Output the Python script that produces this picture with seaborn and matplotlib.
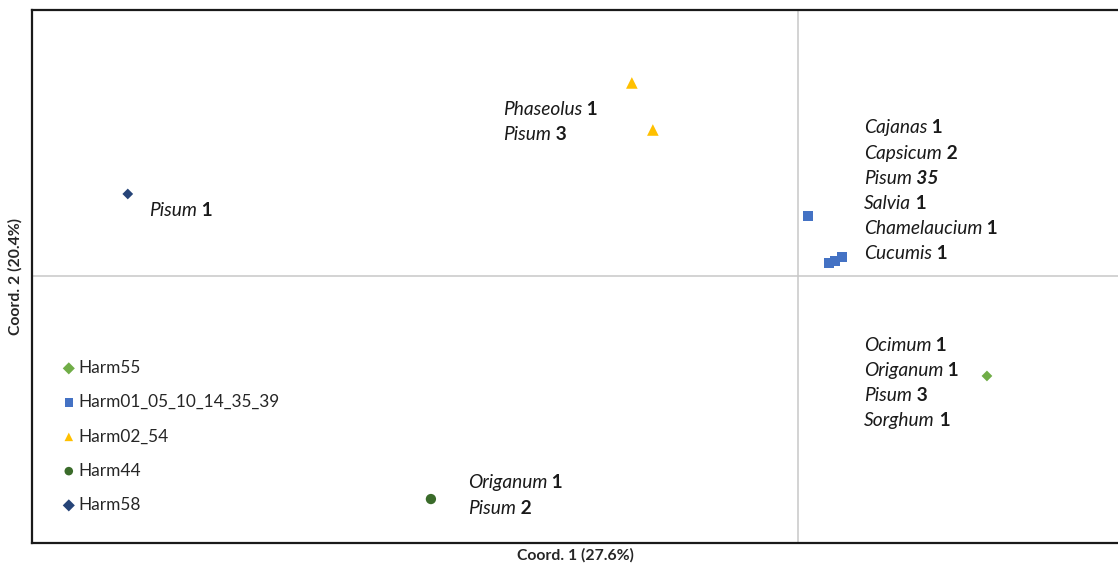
import matplotlib
matplotlib.use("Agg")
import matplotlib.pyplot as plt
import seaborn as sns
import pandas as pd

# ---- data ----
groups = ["Harm55", "Harm01_05_10_14_35_39", "Harm02_54", "Harm44", "Harm58"]
point_group = ["Harm55",
               "Harm01_05_10_14_35_39", "Harm01_05_10_14_35_39",
               "Harm01_05_10_14_35_39", "Harm01_05_10_14_35_39",
               "Harm02_54", "Harm02_54",
               "Harm44",
               "Harm58"]
coord1 = [0.135, 0.0071, 0.0224, 0.0264, 0.0314, -0.1186, -0.1036, -0.2621, -0.4786]
coord2 = [-0.0714, 0.0429, 0.0093, 0.0107, 0.0136, 0.1379, 0.1043, -0.1593, 0.0586]

labels_genus = {
    "Harm58": ["Pisum"],
    "Harm02_54": ["Phaseolus", "Pisum"],
    "Harm01_05_10_14_35_39": ["Cajanas", "Capsicum", "Pisum", "Salvia", "Chamelaucium", "Cucumis"],
    "Harm55": ["Ocimum", "Origanum", "Pisum", "Sorghum"],
    "Harm44": ["Origanum", "Pisum"],
}
labels_count = {
    "Harm58": ["1"],
    "Harm02_54": ["1", "3"],
    "Harm01_05_10_14_35_39": ["1", "2", "35", "1", "1", "1"],
    "Harm55": ["1", "1", "3", "1"],
    "Harm44": ["1", "2"],
}
x_label = "Coord. 1 (27.6%)"
y_label = "Coord. 2 (20.4%)"

# ---- style ----
palette = {"Harm55": "#70AD47", "Harm01_05_10_14_35_39": "#4472C4",
           "Harm02_54": "#FFC000", "Harm44": "#3A6B2A", "Harm58": "#264478"}
markers = {"Harm55": "D", "Harm01_05_10_14_35_39": "s",
           "Harm02_54": "^", "Harm44": "o", "Harm58": "D"}
sizes = {"Harm55": 30, "Harm01_05_10_14_35_39": 55,
         "Harm02_54": 70, "Harm44": 55, "Harm58": 30}

sns.set_style("white")
plt.rcParams["font.family"] = ["Lato", "DejaVu Sans"]
FS = 13.8

df = pd.DataFrame({"Coord1": coord1, "Coord2": coord2, "Group": point_group})

fig = plt.figure(figsize=(11.18, 5.68), dpi=100)
ax = fig.add_axes([32 / 1118, 25 / 568, 1 - 32 / 1118, 533 / 568])

ax.axhline(0, color="#C8C8C8", lw=1.1, zorder=0)
ax.axvline(0, color="#C8C8C8", lw=1.1, zorder=0)

for g in groups:
    sub = df[df.Group == g]
    sns.scatterplot(data=sub, x="Coord1", y="Coord2", color=palette[g],
                    marker=markers[g], s=sizes[g], edgecolor="none",
                    ax=ax, label=g, zorder=3)

ax.set_xlim(-0.547, 0.2286)
ax.set_ylim(-0.1907, 0.19)
ax.set_xticks([])
ax.set_yticks([])
ax.set_xlabel(x_label, fontsize=11.3, fontweight="bold", labelpad=4)
ax.set_ylabel(y_label, fontsize=11.3, fontweight="bold", labelpad=7)
for side in ["left", "top", "bottom"]:
    ax.spines[side].set_color("#1a1a1a")
    ax.spines[side].set_linewidth(1.6)
ax.spines["right"].set_visible(False)

# annotation anchor (first point of group) and pixel offsets of the first line
anchor = {"Harm58": 8, "Harm02_54": 5, "Harm01_05_10_14_35_39": 1, "Harm55": 0, "Harm44": 7}
offset = {"Harm58": (21, -17), "Harm02_54": (-129, -27),
          "Harm01_05_10_14_35_39": (56, 88), "Harm55": (-123, 30), "Harm44": (37, 17)}
step = {"Harm58": 25, "Harm02_54": 25, "Harm01_05_10_14_35_39": 25.2,
        "Harm55": 25, "Harm44": 26}

for g in groups:
    i = anchor[g]
    px, py = coord1[i], coord2[i]
    dx, dy = offset[g]
    for k, (gen, cnt) in enumerate(zip(labels_genus[g], labels_count[g])):
        t = ax.annotate(gen, xy=(px, py), xytext=(dx, dy - k * step[g]),
                        textcoords="offset pixels", fontsize=FS, style="italic",
                        va="center", ha="left", color="#1a1a1a")
        ax.annotate(" " + cnt, xy=(1, 0.5), xycoords=t, fontsize=FS,
                    fontweight="bold", va="center", ha="left", color="#1a1a1a",
                    style="italic" if cnt == "35" else "normal")

leg = ax.legend(loc="upper left", bbox_to_anchor=(20 / 1086, 1 - 343 / 533),
                frameon=False, fontsize=12.4, handletextpad=0.0,
                labelspacing=1.06, borderaxespad=0, handlelength=1.15)
for h in leg.legend_handles:
    try:
        h.set_sizes([38])
    except Exception:
        pass

fig.savefig("out.png", dpi=100)
